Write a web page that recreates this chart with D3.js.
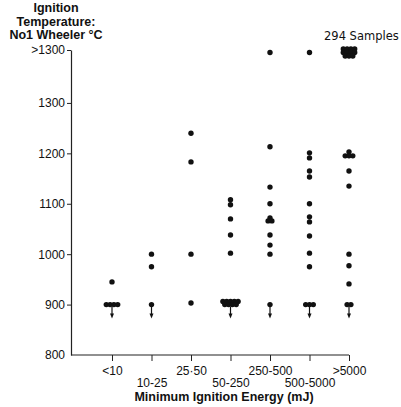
<!DOCTYPE html>
<html>
<head>
<meta charset="utf-8">
<script src="https://cdn.jsdelivr.net/npm/d3@7"></script>
<style>
  html, body { margin: 0; padding: 0; background: #fff; }
  svg { display: block; font-family: "DejaVu Sans", sans-serif; }
  .tick text { font-size: 12px; fill: #111; }
  .title { font-family: "Liberation Sans", Arial, sans-serif; font-weight: bold; font-size: 12.5px; fill: #111; }
</style>
</head>
<body>
<div id="chart"></div>
<script>
/* Ignition temperature vs minimum ignition energy, one dot per sample.
 * Values at 900 are "900 or below" (arrow); the top row is ">1300". */
const categories = ["<10", "10-25", "25·50", "50-250", "250-500", "500-5000", ">5000"];

const below10    = [945, 900, 900, 900, 900];
const from10     = [1000, 975, 900];
const from25     = [1240, 1183, 1000, 903];
const from50     = [1108, 1098, 1070, 1038, 1002, 906, 906, 906, 906, 906, 900, 900, 900, 900];
const from250    = [1400, 1213, 1133, 1100, 1072, 1066, 1066, 1038, 1018, 1000, 900];
const from500    = [1400, 1201, 1191, 1165, 1153, 1100, 1074, 1064, 1036, 1002, 975, 900, 900, 900];
const above5000  = [1407, 1407, 1407, 1407, 1400, 1400, 1400, 1400, 1393, 1393, 1393,
                    1203, 1195, 1195, 1195, 1165, 1135, 1000, 977, 941, 900, 900];
const temps = [below10, from10, from25, from50, from250, from500, above5000];

const yTicks = [800, 900, 1000, 1100, 1200, 1300, 1405];
const yTickLabels = ["800", "900", "1000", "1100", "1200", "1300", ">1300"];
const censoredAt = 900;   // lowest measurable temperature
const sampleNote = "294 Samples";

const width = 401, height = 407;
const svg = d3.select("#chart").append("svg").attr("width", width).attr("height", height);

const x = d3.scalePoint().domain(categories).range([112, 349]);
const y = d3.scaleLinear().domain([800, 1405]).range([355, 50]);
const axisX = 71;

// y axis
svg.append("g")
  .attr("transform", `translate(${axisX},0)`)
  .call(d3.axisLeft(y).tickValues(yTicks).tickSizeInner(4).tickSizeOuter(0).tickPadding(2)
    .tickFormat((d, i) => yTickLabels[i]))
  .call(g => g.selectAll(".tick").filter(d => d === 800).select("line").remove())
  .call(g => g.select(".domain").attr("stroke", "#222").attr("stroke-width", 1.2))
  .call(g => g.selectAll(".tick line").attr("stroke", "#222"));

// x axis, labels staggered on two rows
svg.append("g")
  .attr("transform", `translate(0,${y(800)})`)
  .call(d3.axisBottom(x).tickSizeInner(6).tickSizeOuter(0).tickPadding(4))
  .call(g => g.select(".domain").remove())
  .call(g => g.selectAll(".tick line").attr("stroke", "#222"))
  .call(g => g.selectAll(".tick text").attr("dy", (d, i) => i % 2 ? "1.85em" : "0.8em"));

svg.append("line")
  .attr("x1", axisX).attr("x2", x(categories[categories.length - 1]))
  .attr("y1", y(800)).attr("y2", y(800))
  .attr("stroke", "#222").attr("stroke-width", 1.2);

// dots: identical values in a column are spread side by side
const spacing = 3.8;
const dots = [];
temps.forEach((vals, ci) => {
  const groups = d3.group(vals, v => v);
  groups.forEach((arr, v) => {
    arr.forEach((_, i) => dots.push({ cat: categories[ci], value: v, off: (i - (arr.length - 1) / 2) * spacing }));
  });
});

svg.append("g").selectAll("circle").data(dots).join("circle")
  .attr("cx", d => x(d.cat) + d.off)
  .attr("cy", d => y(d.value))
  .attr("r", 2.7)
  .attr("fill", "#111");

// downward arrows under the 900 values
const arrowCats = categories.filter((c, i) => temps[i].includes(censoredAt));
const arrows = svg.append("g").selectAll("g").data(arrowCats).join("g");
arrows.append("line")
  .attr("x1", c => x(c)).attr("x2", c => x(c))
  .attr("y1", y(censoredAt) + 2).attr("y2", y(censoredAt) + 11)
  .attr("stroke", "#111").attr("stroke-width", 1.2);
arrows.append("path")
  .attr("d", c => `M${x(c) - 2},${y(censoredAt) + 9} L${x(c) + 2},${y(censoredAt) + 9} L${x(c)},${y(censoredAt) + 14} Z`)
  .attr("fill", "#111");

// titles
const yTitle = svg.append("text").attr("class", "title").attr("text-anchor", "middle");
["Ignition", "Temperature:", "No1 Wheeler °C"].forEach((s, i) =>
  yTitle.append("tspan").attr("x", 56).attr("y", 12 + i * 13.5).text(s));

svg.append("text").attr("class", "title")
  .attr("x", 224).attr("y", 401).attr("text-anchor", "middle")
  .text("Minimum Ignition Energy (mJ)");

svg.append("text")
  .attr("x", 324).attr("y", 40)
  .attr("font-size", 11.5).attr("fill", "#111")
  .text(sampleNote);
</script>
</body>
</html>
